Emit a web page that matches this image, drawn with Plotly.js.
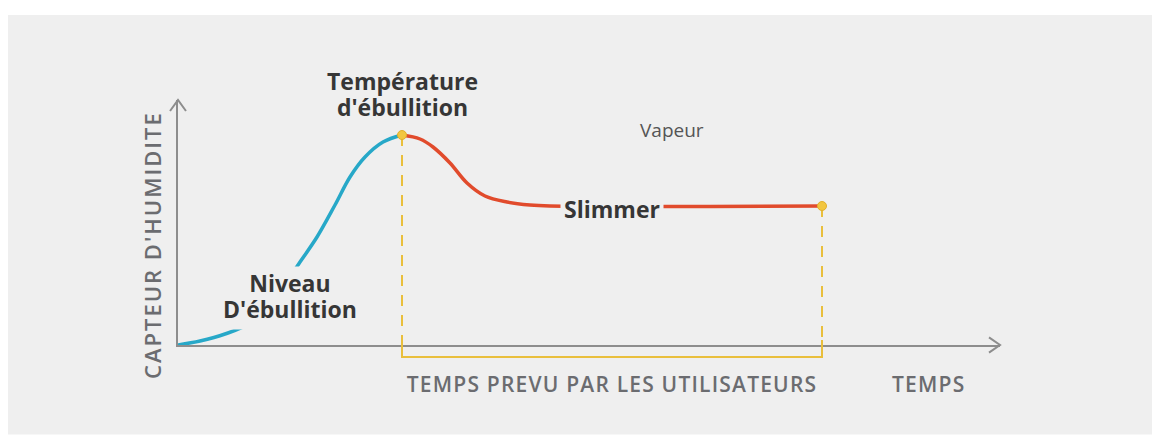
<!DOCTYPE html>
<html>
<head>
<meta charset="utf-8">
<script src="https://cdn.plot.ly/plotly-3.0.1.min.js"></script>
<style>html,body{margin:0;padding:0;background:#fff;}</style>
</head>
<body>
<div id="chart" style="width:1152px;height:435px;"></div>
<script>
// Rising phase (blue) — time vs humidity sensor reading
const riseTime  = [0, 22, 47, 72, 97, 122, 139, 157, 172, 187, 205, 224];
const riseHum   = [0, 4, 11, 22, 47, 83, 108, 140, 168, 188, 203, 210];
// Simmer phase (red)
const simmerTime = [224, 242, 255, 272, 289, 307, 329, 352, 372, 644];
const simmerHum  = [210, 206, 198, 182, 162, 149, 143, 140, 139, 139];

const yTitle = "CAPTEUR D'HUMIDITE";
const xTitle = "TEMPS";
const userTime = "TEMPS PREVU PAR LES UTILISATEURS";
const boilTempLines = ["Température", "d'ébullition"];
const boilLevelLines = ["Niveau", "D'ébullition"];
const simmerLabel = "Slimmer";
const vapourLabel = "Vapeur";

const peakX = riseTime[riseTime.length - 1];
const peakY = riseHum[riseHum.length - 1];
const endX = simmerTime[simmerTime.length - 1];
const endY = simmerHum[simmerHum.length - 1];

const yellow = '#e9bf3c';
const axisGrey = '#8d8d8d';
const panel = '#efefef';

const traces = [
  {x: [peakX, peakX], y: [peakY, 0], mode: 'lines', line: {color: yellow, width: 2, dash: '11px,9px'}, hoverinfo: 'skip'},
  {x: [endX, endX], y: [endY, 0], mode: 'lines', line: {color: yellow, width: 2, dash: '11px,9px'}, hoverinfo: 'skip'},
  {x: riseTime, y: riseHum, mode: 'lines', line: {color: '#27a8c8', width: 3.5, shape: 'spline', smoothing: 1}, hoverinfo: 'skip'},
  {x: simmerTime, y: simmerHum, mode: 'lines', line: {color: '#e14b2c', width: 3.5, shape: 'spline', smoothing: 1}, hoverinfo: 'skip'},
  {x: [peakX, endX], y: [peakY, endY], mode: 'markers', marker: {color: '#f2c640', size: 9, line: {color: '#e2b02a', width: 1}}, hoverinfo: 'skip', cliponaxis: false}
];

const boldFont = {family: 'Open Sans, sans-serif', size: 23, color: '#363636', weight: 700};
const capFont = {family: 'Open Sans, sans-serif', size: 21, color: '#6b6c70', weight: 600};

function ann(o) {
  return Object.assign({showarrow: false, xanchor: 'center', yanchor: 'middle'}, o);
}

const layout = {
  width: 1152, height: 435,
  margin: {l: 178, r: 152, t: 100, b: 90, pad: 0},
  paper_bgcolor: '#ffffff',
  plot_bgcolor: 'rgba(0,0,0,0)',
  showlegend: false,
  xaxis: {range: [0, 822], showgrid: false, zeroline: false, showticklabels: false, ticks: '',
          showline: true, linecolor: axisGrey, linewidth: 2, fixedrange: true},
  yaxis: {range: [0, 245], showgrid: false, zeroline: false, showticklabels: false, ticks: '',
          showline: true, linecolor: axisGrey, linewidth: 2, fixedrange: true},
  shapes: [
    {type: 'rect', xref: 'paper', yref: 'paper', x0: -0.2068, x1: 1.19, y0: -0.365, y1: 1.347,
     fillcolor: panel, line: {width: 0}, layer: 'below'},
    {type: 'path', xref: 'paper', yref: 'paper', path: 'M 0.9866,0.0310 L 1.0,0 L 0.9866,-0.0310',
     line: {color: axisGrey, width: 2}},
    {type: 'path', xref: 'paper', yref: 'paper', path: 'M -0.0097,0.955 L 0,1.0 L 0.0097,0.955',
     line: {color: axisGrey, width: 2}},
    {type: 'path', xref: 'x', yref: 'paper',
     path: `M ${peakX},0.02 L ${peakX},-0.049 L ${endX},-0.049 L ${endX},0.02`,
     line: {color: yellow, width: 2}}
  ],
  annotations: [
    ann({xref: 'x', yref: 'paper', x: peakX, y: (345 - 95.5) / 245,
         text: '<b>' + boilTempLines.join('<br>') + '</b>', font: boldFont}),
    ann({xref: 'x', yref: 'paper', x: 112, y: (345 - 298) / 245,
         text: '<b>' + boilLevelLines.join('<br>') + '</b>', font: boldFont, bgcolor: panel, borderpad: 0}),
    ann({xref: 'x', yref: 'y', x: 434, y: endY, yshift: -3, text: '<b>' + simmerLabel + '</b>',
         font: boldFont, bgcolor: panel, borderpad: 3}),
    ann({xref: 'x', yref: 'y', x: 494, y: 215, text: vapourLabel,
         font: {family: 'Open Sans, sans-serif', size: 19, color: '#555555'}}),
    ann({xref: 'x', yref: 'paper', x: 434, y: (345 - 384) / 245, text: userTime, font: capFont}),
    ann({xref: 'x', yref: 'paper', x: 750, y: (345 - 384) / 245, text: xTitle, font: capFont}),
    ann({xref: 'paper', yref: 'paper', x: (152 - 178) / 822, y: (345 - 245) / 245, text: yTitle,
         textangle: -90, font: Object.assign({}, capFont, {size: 22})})
  ]
};

Plotly.newPlot('chart', traces, layout, {displayModeBar: false, staticPlot: true}).then(function (gd) {
  // tighter line height for the two-line bold labels
  [0, 1].forEach(function (i) {
    const spans = gd.querySelectorAll('.annotation[data-index="' + i + '"] text.annotation-text tspan.line');
    spans.forEach(function (s, k) { if (k > 0) s.setAttribute('dy', '1.13em'); });
  });
  // letter spacing for the uppercase captions
  const spacing = {4: '1.2px', 5: '1.2px', 6: '2px'};
  Object.keys(spacing).forEach(function (i) {
    const t = gd.querySelector('.annotation[data-index="' + i + '"] text.annotation-text');
    if (t) t.style.letterSpacing = spacing[i];
  });
});
</script>
</body>
</html>
